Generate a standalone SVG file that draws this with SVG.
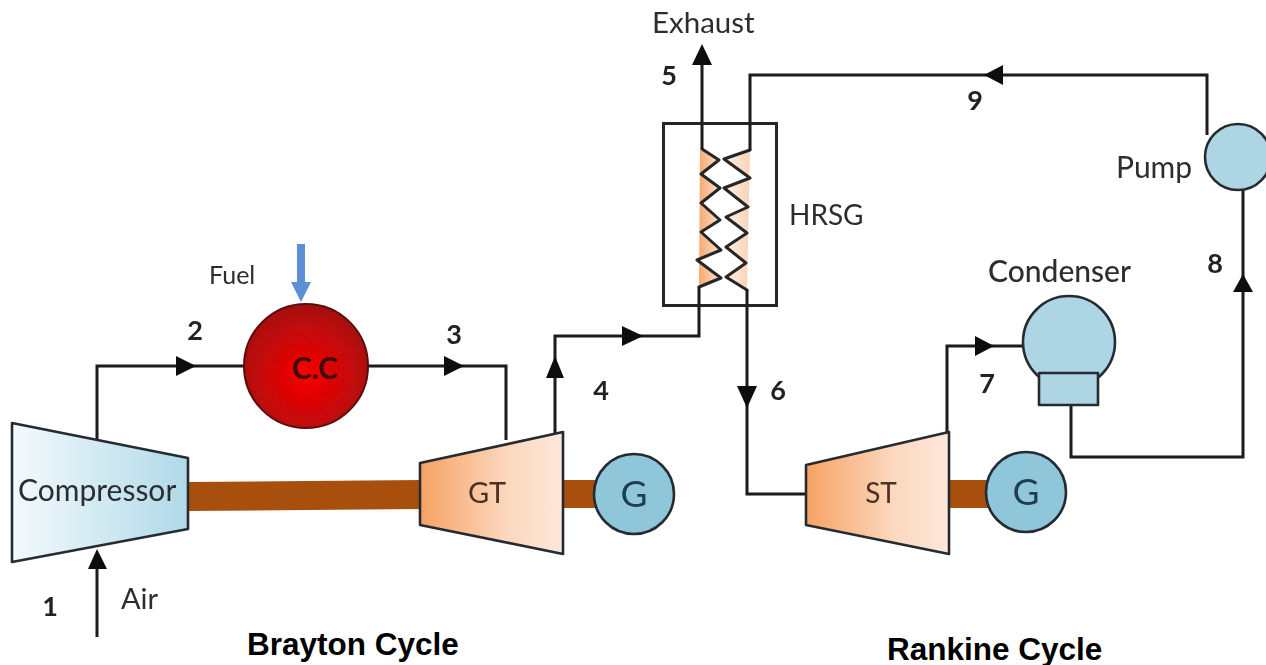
<svg xmlns="http://www.w3.org/2000/svg" width="1266" height="665" viewBox="0 0 1266 665">
<style>
.w{fill:none;stroke:#1c1c1c;stroke-width:3;stroke-linejoin:miter}
.c{fill:none;stroke:#262626;stroke-width:3;stroke-linejoin:round;stroke-linecap:round}
.e{stroke:#262c30;stroke-width:2.6;stroke-linejoin:round}
.t{font-family:Lato,"Open Sans",sans-serif;fill:#2b2f33;font-size:29px}
.n{font-family:Lato,"Open Sans",sans-serif;fill:#222;font-size:27px;font-weight:700;text-anchor:middle}
.h{font-family:"Liberation Sans",Arial,sans-serif;fill:#000;font-size:31.500px;font-weight:700}
.s{fill:#a9500e}
.a{fill:#0d0d0d}
</style>
<defs>
<filter id="soft" x="-2%" y="-2%" width="104%" height="104%"><feGaussianBlur stdDeviation="0.55"/></filter>
<linearGradient id="cg"><stop offset="0" stop-color="#f4fafd"/><stop offset="1" stop-color="#b0d9e8"/></linearGradient>
<linearGradient id="tg"><stop offset="0" stop-color="#f6a263"/><stop offset="0.6" stop-color="#fcd7bd"/><stop offset="1" stop-color="#fee8da"/></linearGradient>
<linearGradient id="ol"><stop offset="0" stop-color="#f5a468"/><stop offset="1" stop-color="#fde3d0"/></linearGradient>
<linearGradient id="or"><stop offset="0" stop-color="#fdf2ea"/><stop offset="1" stop-color="#fad2b6"/></linearGradient>
<radialGradient id="rg" cx="0.5" cy="0.58" r="0.58"><stop offset="0" stop-color="#fb0505"/><stop offset="1" stop-color="#a50808"/></radialGradient>
</defs>

<g filter="url(#soft)">
<g id="shafts">
<path class="s" d="M186 482L422 480V509L186 511Z"/>
<path class="s" d="M561 480H597V508H561Z"/>
<path class="s" d="M947 480H990V508H947Z"/>
</g>

<g id="hrsg">
<path fill="url(#ol)" d="M700 149L719 160L701 174L720 188L701 203L720 220L701 232L721 250L697 260L721 278L699 287Z"/>
<path fill="url(#or)" d="M750 150L724 159L750 178L724 188L748 207L726 217L747 233L726 247L746 263L726 277L747 290Z"/>
<path class="c" d="M702 149L719 160L701 174L720 188L701 203L720 220L701 232L721 250L697 260L721 278L699 287"/>
<path class="c" d="M750 150L724 159L750 178L724 188L748 207L726 217L747 233L726 247L746 263L726 277L747 290"/>
<rect x="663.500" y="123.500" width="113" height="182" fill="none" stroke="#262626" stroke-width="3"/>
<text class="t" x="789" y="225" style="font-size:28px">HRSG</text>
</g>

<g id="connectors">
<path class="w" d="M97 441V366H244"/>
<path class="w" d="M368 366H506V440"/>
<path class="w" d="M555 434V336H699V287"/>
<path class="w" d="M702 149V50"/>
<path class="w" d="M750 150V75H1207V135"/>
<path class="w" d="M747 290V494H807"/>
<path class="w" d="M947 434V346H1023"/>
<path class="w" d="M1071 405V457H1243V190"/>
<path class="w" d="M97 637V555"/>
<path class="a" d="M176 356L196 366L176 376Z"/>
<path class="a" d="M444 356L464 366L444 376Z"/>
<path class="a" d="M546 378L555 356L564 378Z"/>
<path class="a" d="M622 326L643 336L622 346Z"/>
<path class="a" d="M692 65L702 44L712 65Z"/>
<path class="a" d="M1003 65L984 75L1003 85Z"/>
<path class="a" d="M737 386L747 408L757 386Z"/>
<path class="a" d="M975 336L994 346L975 356Z"/>
<path class="a" d="M1233 292L1243 274L1253 292Z"/>
<path class="a" d="M88 569L97 549L107 569Z"/>
<path fill="#5b8fd6" d="M297 244H305V282H311L301 302L291 282H297Z"/>
</g>

<g id="compressor">
<path class="e" fill="url(#cg)" d="M12 423L188 458V529L12 562Z"/>
<text class="t" x="18" y="501" style="font-size:30px">Compressor</text>
</g>

<g id="cc">
<circle cx="306" cy="366" r="62" fill="url(#rg)" stroke="#5a1010" stroke-width="2"/>
<text x="315" y="379" text-anchor="middle" font-family="Lato,sans-serif" font-weight="700" font-size="30" fill="#3c0a0a">C.C</text>
</g>

<g id="gt">
<path class="e" fill="url(#tg)" d="M420 463L563 432V554L420 525Z"/>
<text class="t" x="487" y="503" text-anchor="middle" style="fill:#4a3024">GT</text>
</g>
<g id="gen1">
<circle class="e" cx="634" cy="494" r="40" fill="#8fc6da"/>
<text x="634" y="507" text-anchor="middle" font-family="Lato,sans-serif" font-size="37" fill="#1d3f50">G</text>
</g>

<g id="st">
<path class="e" fill="url(#tg)" d="M806 465L949 432V554L806 525Z"/>
<text class="t" x="881" y="503" text-anchor="middle" style="fill:#4a3024;font-size:28px">ST</text>
</g>
<g id="gen2">
<circle class="e" cx="1026" cy="492" r="40" fill="#8fc6da"/>
<text x="1026" y="505" text-anchor="middle" font-family="Lato,sans-serif" font-size="37" fill="#1d3f50">G</text>
</g>

<g id="condenser">
<circle class="e" cx="1069" cy="342" r="46" fill="#add5e4"/>
<rect class="e" x="1039" y="373" width="59" height="32" fill="#add5e4"/>
<text class="t" x="988" y="282" style="font-size:30px;font-weight:500">Condenser</text>
</g>

<g id="pump">
<circle class="e" cx="1238" cy="157" r="33" fill="#add5e4"/>
<text class="t" x="1116" y="178" style="font-size:30px">Pump</text>
</g>

<g id="labels">
<text class="t" x="652" y="33" style="font-size:29.500px">Exhaust</text>
<text class="t" x="209" y="284" style="font-size:25px">Fuel</text>
<text class="t" x="121" y="609" style="font-size:29px">Air</text>
<text class="n" x="50" y="616">1</text>
<text class="n" x="195" y="340">2</text>
<text class="n" x="454" y="344">3</text>
<text class="n" x="601" y="400">4</text>
<text class="n" x="669" y="85">5</text>
<text class="n" x="778" y="400">6</text>
<text class="n" x="987" y="393">7</text>
<text class="n" x="1215" y="273">8</text>
<text class="n" x="975" y="110">9</text>
</g>
</g>

<g id="captions">
<text class="h" x="247" y="655">Brayton Cycle</text>
<text class="h" x="887" y="660">Rankine Cycle</text>
</g>
</svg>
